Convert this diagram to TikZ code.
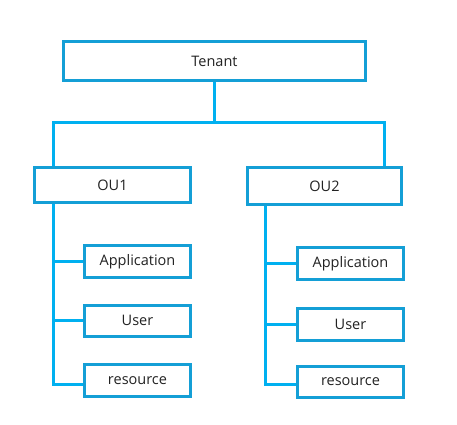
\documentclass[tikz,border=0pt]{standalone}
\usepackage{fontspec}
\setmainfont{Open Sans}
\definecolor{boxc}{HTML}{149FD6}
\definecolor{linec}{HTML}{00B0F0}
\definecolor{txt}{HTML}{222222}
\begin{document}
\begin{tikzpicture}[x=1pt,y=-1pt,
  box/.style={draw=boxc,line width=3pt,fill=white,inner sep=0pt,text=txt,font=\fontsize{14.5}{16}\selectfont},
  conn/.style={draw=linec,line width=3pt}]
\useasboundingbox (0,0) rectangle (457,424);
\node[box,minimum width=302,minimum height=39] (tenant) at (214.5,61) {Tenant};
\node[box,minimum width=156,minimum height=35] (ou1) at (112.5,185) {OU1};
\node[box,minimum width=154,minimum height=37] (ou2) at (324.5,186) {OU2};
\node[box,minimum width=106,minimum height=32] (app1) at (137.5,261.5) {Application};
\node[box,minimum width=106,minimum height=31] (user1) at (137.5,320.5) {User};
\node[box,minimum width=106,minimum height=32] (res1) at (137.5,380.5) {resource};
\node[box,minimum width=106,minimum height=32] (app2) at (350.5,263.5) {Application};
\node[box,minimum width=106,minimum height=32] (user2) at (350.5,324.5) {User};
\node[box,minimum width=106,minimum height=31] (res2) at (350.5,382) {resource};
\coordinate (hl) at (53,122);
\coordinate (hr) at (384,122);
\coordinate (t1) at (53,384);
\coordinate (t2) at (265,384);
\draw[conn] (tenant.south) -- (tenant.south |- hl);
\draw[conn] (ou1.north -| hl) -- (hl) -- (hr) -- (ou2.north -| hr);
\draw[conn] (ou1.south -| t1) -- (t1) -- (res1.west |- t1);
\draw[conn] (app1.west -| t1) -- (app1.west);
\draw[conn] (user1.west -| t1) -- (user1.west);
\draw[conn] (ou2.south -| t2) -- (t2) -- (res2.west |- t2);
\draw[conn] (app2.west -| t2) -- (app2.west);
\draw[conn] (user2.west -| t2) -- (user2.west);
\end{tikzpicture}
\end{document}
